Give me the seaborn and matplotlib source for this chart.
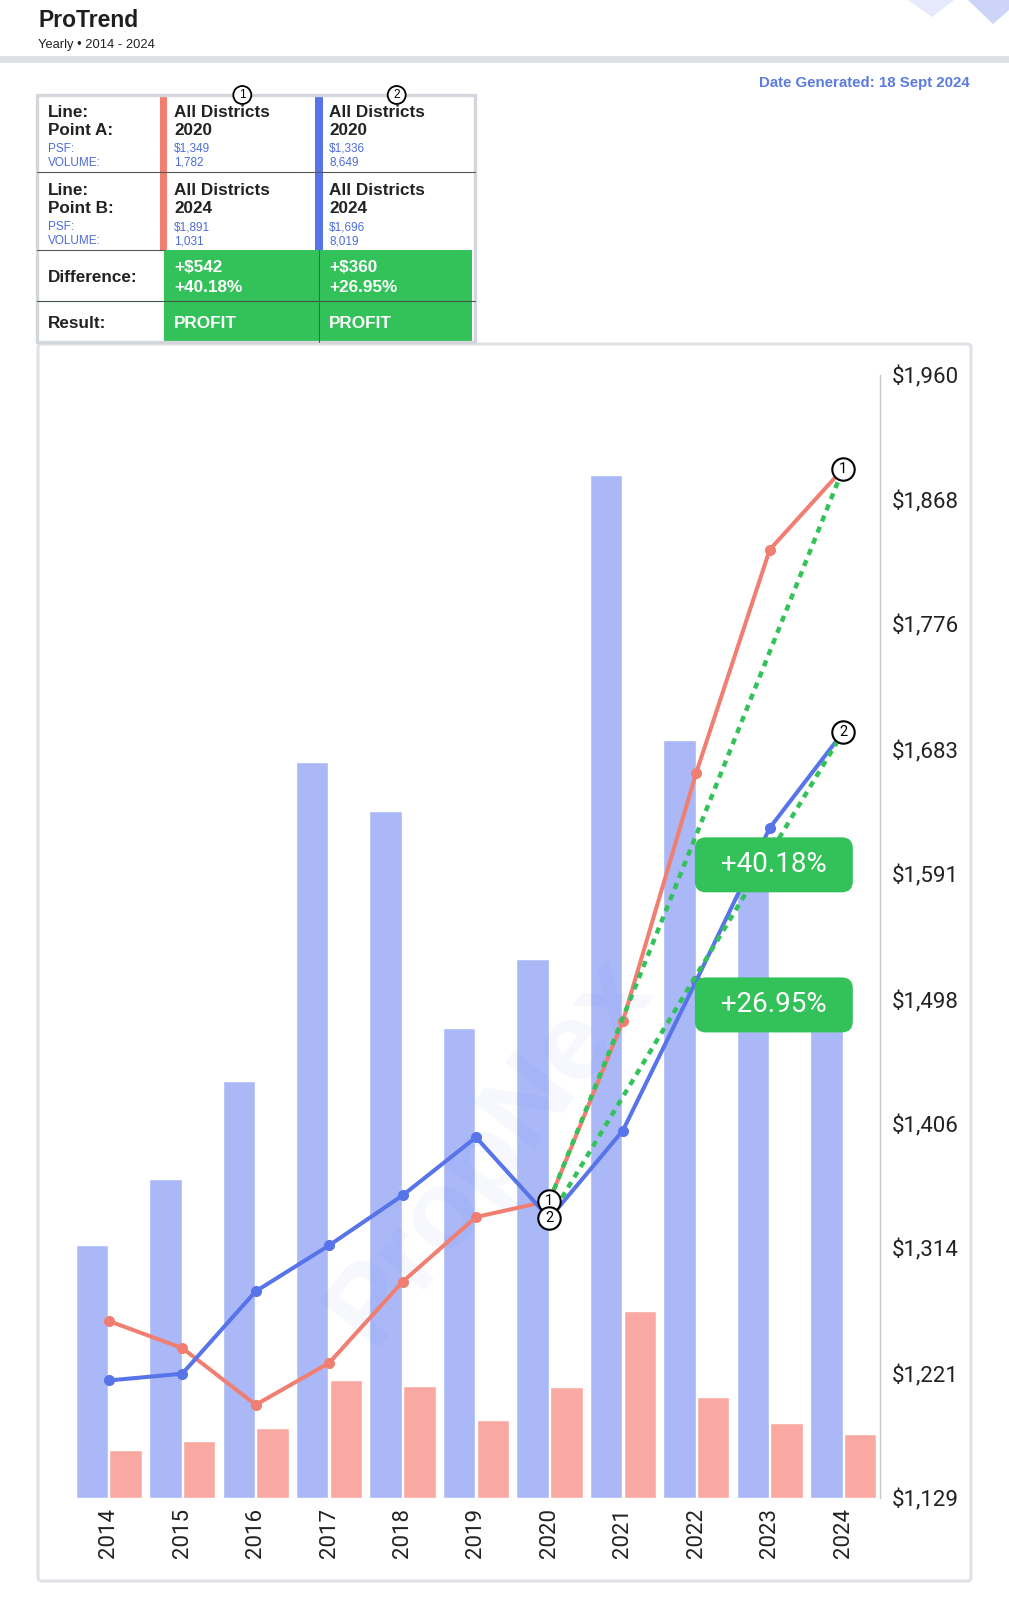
import numpy as np
import pandas as pd
import matplotlib.pyplot as plt
import matplotlib as mpl
import seaborn as sns
from matplotlib.patches import FancyBboxPatch, Rectangle, Circle, Polygon

sns.set_theme(style='white')
plt.rcParams['font.family'] = ['Liberation Sans', 'DejaVu Sans']

# chart data
years = ['2014', '2015', '2016', '2017', '2018', '2019',
         '2020', '2021', '2022', '2023', '2024']
psf_line1 = [1260, 1240, 1198, 1229, 1289, 1337, 1349, 1482, 1666, 1831, 1891]
psf_line2 = [1216, 1221, 1282, 1316, 1353, 1396, 1336, 1401, 1512, 1625, 1696]
vol_line1 = [771, 915, 1124, 1895, 1800, 1252, 1782, 3004, 1615, 1209, 1031]
vol_line2 = [4055, 5115, 6680, 11800, 11015, 7530, 8649, 16410, 12160, 10100, 8019]
psf_ticks = [1129, 1221, 1314, 1406, 1498, 1591, 1683, 1776, 1868, 1960]
vol_max = 18000

# comparison table
point_a = '2020'
point_b = '2024'
tbl_psf_a = ['$1,349', '$1,336']
tbl_vol_a = ['1,782', '8,649']
tbl_psf_b = ['$1,891', '$1,696']
tbl_vol_b = ['1,031', '8,019']
tbl_diff = ['+$542', '+$360']
tbl_pct = ['+40.18%', '+26.95%']
tbl_result = ['PROFIT', 'PROFIT']

c_red = '#f07f72'
c_blue = '#5774e8'
c_bar_blue = '#aab8f8'
c_bar_red = '#f9a9a1'
c_green = '#33c25a'
c_txt = '#222222'
c_small = '#4d6bdc'
c_frame = '#dee2e7'

W, H = 1009, 1600
fig = plt.figure(figsize=(W / 100, H / 100), dpi=100)

# page layer in pixel units (y down)
page = fig.add_axes([0, 0, 1, 1])
page.set_xlim(0, W)
page.set_ylim(H, 0)
page.axis('off')

page.text(38, 27, 'ProTrend', fontsize=16.5, fontweight='bold', color='#1e1e1e', va='baseline')
page.text(38, 48.3, 'Yearly \u2022 2014 - 2024', fontsize=9.3, color=c_txt, va='baseline')
page.add_patch(Rectangle((0, 56), W, 7, fc=c_frame, ec='none'))
page.text(970, 86.5, 'Date Generated: 18 Sept 2024', fontsize=10.8, fontweight='bold',
          color='#5b7be0', ha='right', va='baseline')

# logo corner
page.add_patch(Polygon([(908, 0), (954, 0), (932, 17)], closed=True, fc='#e6e9fb', ec='none'))
page.add_patch(Polygon([(968, 0), (1009, 0), (1009, 10), (993, 24)], closed=True, fc='#ccd4f7', ec='none'))

# chart frame
page.add_patch(FancyBboxPatch((38, 344), 933, 1237, boxstyle='round,pad=0,rounding_size=4',
                              fc='white', ec=c_frame, lw=2.2))

# table
tx0, tx1 = 37, 475
ty = [95, 172.3, 250, 301, 341.7]
page.add_patch(Rectangle((tx0, ty[0]), tx1 - tx0, ty[4] - ty[0], fc='white', ec='none'))
page.add_patch(Rectangle((164, ty[2]), 308, ty[4] - ty[2], fc=c_green, ec='none'))
page.add_patch(Rectangle((160, ty[0]), 7, ty[2] - ty[0], fc=c_red, ec='none'))
page.add_patch(Rectangle((315, ty[0]), 7.5, ty[2] - ty[0], fc=c_blue, ec='none'))
page.plot([tx0, tx1], [ty[1], ty[1]], color='#555555', lw=0.8)
page.plot([tx0, 164], [ty[2], ty[2]], color='#555555', lw=0.8)
page.plot([tx0, tx1], [ty[3], ty[3]], color='#3d5a45', lw=0.8)
page.plot([319, 319], [ty[2], ty[4]], color='#2a7a40', lw=0.8)
page.add_patch(Rectangle((tx0, ty[0]), tx1 - tx0, ty[4] - ty[0], fc='none', ec='#d3d7dc', lw=2.4))

col_x = [174, 329]
for r, (lab, yr, psf, vol) in enumerate([('Point A:', point_a, tbl_psf_a, tbl_vol_a),
                                        ('Point B:', point_b, tbl_psf_b, tbl_vol_b)]):
    dy = r * 78.3
    page.text(48, 116.7 + dy, 'Line:', fontsize=12.3, fontweight='bold', color=c_txt, va='baseline')
    page.text(48, 135 + dy, lab, fontsize=12.3, fontweight='bold', color=c_txt, va='baseline')
    page.text(48, 151.7 + dy, 'PSF:', fontsize=8.5, color=c_small, va='baseline')
    page.text(48, 165.7 + dy, 'VOLUME:', fontsize=8.5, color=c_small, va='baseline')
    for c in range(2):
        page.text(col_x[c], 116.7 + dy, 'All Districts', fontsize=12.3, fontweight='bold',
                  color=c_txt, va='baseline')
        page.text(col_x[c], 135 + dy, yr, fontsize=12.3, fontweight='bold', color=c_txt, va='baseline')
        page.text(col_x[c], 151.7 + dy, psf[c], fontsize=8.5, color=c_small, va='baseline')
        page.text(col_x[c], 165.7 + dy, vol[c], fontsize=8.5, color=c_small, va='baseline')

page.text(48, 281.7, 'Difference:', fontsize=12.3, fontweight='bold', color=c_txt, va='baseline')
page.text(48, 328, 'Result:', fontsize=12.3, fontweight='bold', color=c_txt, va='baseline')
for c in range(2):
    page.text(col_x[c], 271.7, tbl_diff[c], fontsize=12.3, fontweight='bold', color='white', va='baseline')
    page.text(col_x[c], 291.7, tbl_pct[c], fontsize=12.3, fontweight='bold', color='white', va='baseline')
    page.text(col_x[c], 328, tbl_result[c], fontsize=12.3, fontweight='bold', color='white', va='baseline')

for num, cx in [('1', 242.3), ('2', 396.7)]:
    page.add_patch(Circle((cx, 95), 9, fc='white', ec='black', lw=1.3, zorder=5))
    page.text(cx, 95.5, num, fontsize=8.5, ha='center', va='center', color='black', zorder=6)

# chart
ax_l, ax_b, ax_w, ax_h = 72.1 / W, 1 - 1498 / H, 807.8 / W, 1122.6 / H
ax = fig.add_axes([ax_l, ax_b, ax_w, ax_h])
ax.patch.set_alpha(0)

df = pd.DataFrame({
    'year': years * 2,
    'series': ['Line 2'] * len(years) + ['Line 1'] * len(years),
    'volume': vol_line2 + vol_line1,
})
sns.barplot(data=df, x='year', y='volume', hue='series', hue_order=['Line 2', 'Line 1'],
            palette={'Line 2': c_bar_blue, 'Line 1': c_bar_red}, width=0.92, gap=0.04,
            saturation=1, errorbar=None, legend=False, ax=ax)
ax.set_ylim(0, vol_max)
ax.set_xlim(-0.5, len(years) - 0.5)
ax.set_yticks([])
ax.set_xlabel('')
ax.set_ylabel('')
ax.tick_params(axis='x', labelrotation=90, length=0, pad=7.2, labelsize=16, labelcolor='#222222')
for lab in ax.get_xticklabels():
    lab.set_fontfamily('Roboto')
for s in ax.spines.values():
    s.set_visible(False)

ax2 = ax.twinx()
ax2.patch.set_alpha(0)
pos = np.arange(len(years))
sns.lineplot(x=pos, y=psf_line1, color=c_red, lw=2.9, marker='o', markersize=8,
             markeredgewidth=0, ax=ax2)
sns.lineplot(x=pos, y=psf_line2, color=c_blue, lw=2.9, marker='o', markersize=8,
             markeredgewidth=0, ax=ax2)
ax2.set_ylim(psf_ticks[0], psf_ticks[-1])
ax2.set_xlim(-0.5, len(years) - 0.5)
ax2.set_yticks(psf_ticks)
ax2.set_yticklabels(['${:,}'.format(v) for v in psf_ticks])
ax2.set_xlabel('')
ax2.set_ylabel('')
ax2.tick_params(axis='y', length=0, pad=8.5, labelsize=16, labelcolor='#222222')
for lab in ax2.get_yticklabels():
    lab.set_fontfamily('Roboto')
for k, s in ax2.spines.items():
    s.set_visible(k == 'right')
ax2.spines['right'].set_color('#c8c8c8')
ax2.spines['right'].set_linewidth(1)

# watermark
ax2.text(0.517, 0.31, 'PropNex', transform=ax2.transAxes, fontsize=80, fontweight='bold',
         color='#4c6ef0', alpha=0.05, rotation=52, ha='center', va='center', zorder=1)

ia, ib = years.index(point_a), years.index(point_b)
for series in [psf_line1, psf_line2]:
    ax2.plot([pos[ia], pos[ib]], [series[ia], series[ib]], color=c_green, lw=3.2,
             linestyle=(0, (1.4, 1.3)), dash_capstyle='butt', zorder=6)

for num, series in [('1', psf_line1), ('2', psf_line2)]:
    for i in (ia, ib):
        ax2.scatter([pos[i]], [series[i]], s=260, facecolor='white', edgecolor='black',
                    linewidth=1.5, zorder=10)
        ax2.text(pos[i], series[i], num, fontsize=10.5, ha='center', va='center',
                 family='Roboto', color='black', zorder=11)

# percentage labels
px_x = ax_w * W / len(years)
px_y = ax_h * H / (psf_ticks[-1] - psf_ticks[0])
box_w = 158 / px_x
box_h = 55 / px_y
for pct, yc in [(tbl_pct[0], 1597.7), (tbl_pct[1], 1494.0)]:
    ax2.add_patch(FancyBboxPatch((7.98, yc - box_h / 2), box_w, box_h,
                                 boxstyle='round,pad=0,rounding_size=0.15',
                                 mutation_aspect=px_x / px_y, fc=c_green, ec='none', zorder=12))
    ax2.text(7.98 + box_w / 2, yc, pct, fontsize=20, family='Roboto', color='white',
             ha='center', va='center', zorder=13)

fig.savefig('out.png', dpi=100)
